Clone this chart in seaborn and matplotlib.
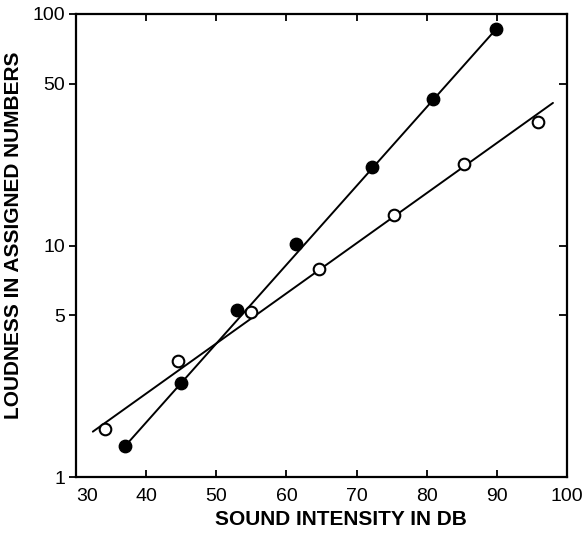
import matplotlib
matplotlib.use("Agg")
import matplotlib.pyplot as plt
import seaborn as sns
import pandas as pd
import numpy as np

# ---- data ----
filled_db = [37.0, 45.0, 53.0, 61.4, 72.2, 80.9, 89.9]
filled_loud = [1.36, 2.54, 5.27, 10.2, 21.9, 42.9, 86.1]

open_db = [34.2, 44.6, 54.9, 64.6, 75.3, 85.3, 95.9]
open_loud = [1.61, 3.18, 5.18, 7.92, 13.5, 22.5, 34.3]

# fitted straight lines (end points)
filled_fit_db = [37.0, 89.9]
filled_fit_loud = [1.36, 86.1]
open_fit_db = [32.4, 98.0]
open_fit_loud = [1.57, 41.3]

x_ticks = [30, 40, 50, 60, 70, 80, 90, 100]
x_tick_labels = ["30", "40", "50", "60", "70", "80", "90", "100"]
y_ticks = [1, 5, 10, 50, 100]
y_tick_labels = ["1", "5", "10", "50", "100"]

sns.set_theme(style="white")
plt.rcParams["font.family"] = ["Liberation Sans", "DejaVu Sans"]

fig = plt.figure(figsize=(5.85, 5.36), dpi=100)
ax = fig.add_axes([76 / 585, 59 / 536, 491 / 585, 463 / 536])

df_filled = pd.DataFrame({"db": filled_db, "loud": filled_loud})
df_open = pd.DataFrame({"db": open_db, "loud": open_loud})
df_ffit = pd.DataFrame({"db": filled_fit_db, "loud": filled_fit_loud})
df_ofit = pd.DataFrame({"db": open_fit_db, "loud": open_fit_loud})

ax.set_yscale("log")
sns.lineplot(data=df_ffit, x="db", y="loud", ax=ax, color="black", linewidth=1.4,
             estimator=None, sort=False)
sns.lineplot(data=df_ofit, x="db", y="loud", ax=ax, color="black", linewidth=1.4,
             estimator=None, sort=False)
sns.scatterplot(data=df_filled, x="db", y="loud", ax=ax, color="black", s=80,
                edgecolor="black", linewidth=1.0, zorder=5)
sns.scatterplot(data=df_open, x="db", y="loud", ax=ax, color="white", s=70,
                edgecolor="black", linewidth=1.5, zorder=5)

ax.set_xlim(30, 100)
ax.set_ylim(1, 100)
ax.minorticks_off()
ax.set_xticks(x_ticks)
ax.set_xticklabels(x_tick_labels)
ax.set_yticks(y_ticks)
ax.set_yticklabels(y_tick_labels)
ax.minorticks_off()

for s in ax.spines.values():
    s.set_linewidth(1.6)
    s.set_color("black")
    s.set_visible(True)

ax.tick_params(axis="x", which="major", direction="in", top=True, bottom=True,
               length=5, width=1.3, color="black", labelsize=14, pad=8,
               labelcolor="black")
ax.tick_params(axis="y", which="major", direction="out", left=True, right=False,
               length=5, width=1.3, color="black", labelsize=14, pad=3,
               labelcolor="black")
ax.get_xticklabels()[0].set_ha("left")

# right-hand inward ticks
ax2 = ax.twinx()
ax2.set_yscale("log")
ax2.set_ylim(1, 100)
ax2.set_yticks(y_ticks)
ax2.minorticks_off()
ax2.tick_params(axis="y", which="major", direction="in", right=True, length=6,
                width=1.3, color="black", labelright=False)
for s in ax2.spines.values():
    s.set_visible(False)

ax.set_xlabel("SOUND INTENSITY IN DB", fontsize=15, fontweight="bold", color="black")
ax.set_ylabel("LOUDNESS IN ASSIGNED NUMBERS", fontsize=15, fontweight="bold", color="black")
ax.xaxis.set_label_coords(0.54, -0.072)
ax.yaxis.set_label_coords(-0.108, 0.523)

fig.savefig("out.png", dpi=100)
